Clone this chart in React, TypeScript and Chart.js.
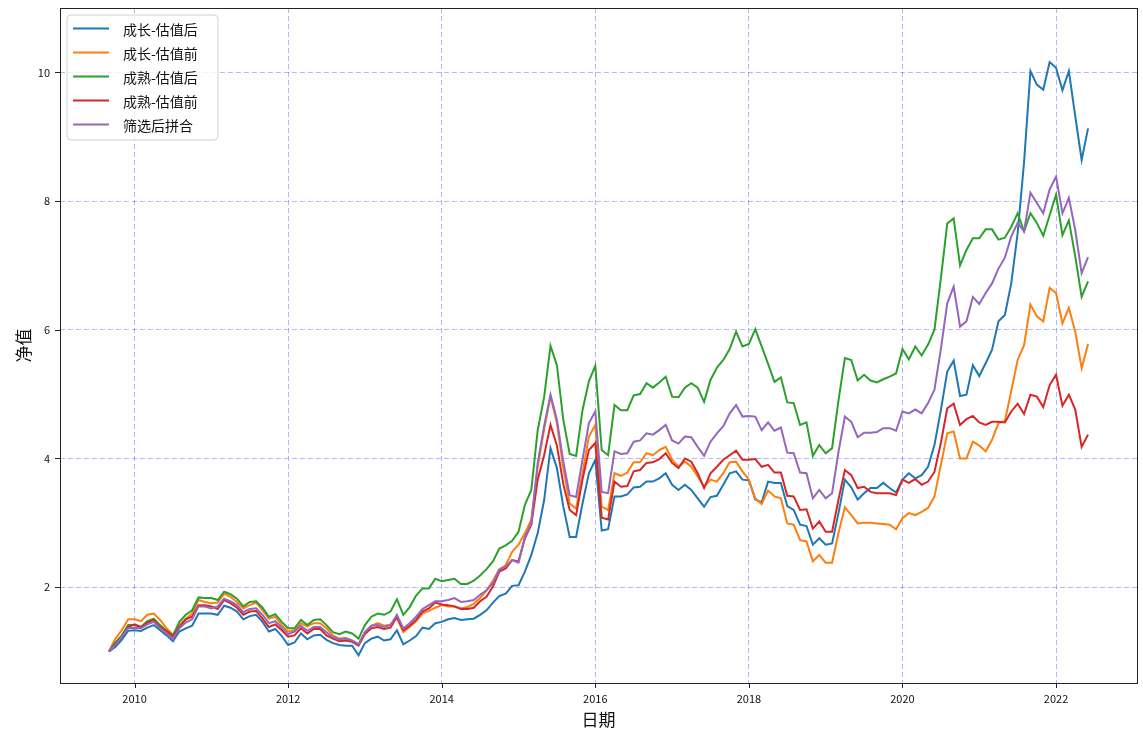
import React, { useEffect, useRef } from "react";
import { Chart, registerables } from "chart.js";

Chart.register(...registerables);

// ---- data (monthly, Aug 2009 .. May 2022) ----
const START_YEAR = 2009;
const START_MONTH = 8;

const seriesNames: string[] = ["成长-估值后", "成长-估值前", "成熟-估值后", "成熟-估值前", "筛选后拼合"];
const seriesColors: string[] = ["#1f77b4", "#ff7f0e", "#2ca02c", "#d62728", "#9467bd"];

const growthAfter: number[] = [
  1.00, 1.07, 1.18, 1.32, 1.33,
  1.32, 1.37, 1.41, 1.33, 1.25, 1.16, 1.31, 1.36, 1.40, 1.59, 1.59, 1.59,
  1.57, 1.71, 1.68, 1.62, 1.50, 1.55, 1.57, 1.46, 1.31, 1.35, 1.24, 1.10,
  1.14, 1.28, 1.19, 1.25, 1.26, 1.18, 1.13, 1.10, 1.09, 1.09, 0.94, 1.13,
  1.20, 1.23, 1.17, 1.19, 1.33, 1.11, 1.17, 1.24, 1.37, 1.35, 1.44, 1.46,
  1.50, 1.52, 1.49, 1.50, 1.51, 1.57, 1.64, 1.76, 1.86, 1.90, 2.02, 2.03,
  2.24, 2.50, 2.84, 3.35, 4.16, 3.85, 3.25, 2.78, 2.78, 3.30, 3.77, 3.98,
  2.88, 2.90, 3.41, 3.41, 3.44, 3.55, 3.56, 3.64, 3.64, 3.69, 3.77, 3.59,
  3.51, 3.59, 3.51, 3.38, 3.25, 3.40, 3.42, 3.59, 3.77, 3.80, 3.67, 3.66,
  3.36, 3.32, 3.64, 3.62, 3.62, 3.26, 3.20, 2.97, 2.95, 2.66, 2.76, 2.66,
  2.68, 3.15, 3.67, 3.55, 3.36, 3.46, 3.54, 3.54, 3.62, 3.54, 3.47, 3.67,
  3.77, 3.69, 3.74, 3.87, 4.21, 4.75, 5.35, 5.52, 4.97, 4.99, 5.45, 5.28,
  5.48, 5.69, 6.13, 6.23, 6.72, 7.50, 8.60, 10.02, 9.81, 9.73, 10.16, 10.07,
  9.72, 10.02, 9.32, 8.64, 9.13,
];

const growthBefore: number[] = [
  1.00, 1.20, 1.33, 1.50, 1.50,
  1.47, 1.57, 1.59, 1.49, 1.36, 1.26, 1.41, 1.51, 1.59, 1.80, 1.77, 1.75,
  1.76, 1.90, 1.85, 1.77, 1.67, 1.72, 1.76, 1.64, 1.51, 1.54, 1.41, 1.31,
  1.33, 1.44, 1.39, 1.44, 1.44, 1.36, 1.25, 1.20, 1.21, 1.17, 1.11, 1.30,
  1.40, 1.44, 1.40, 1.42, 1.52, 1.30, 1.38, 1.47, 1.59, 1.63, 1.68, 1.72,
  1.70, 1.70, 1.67, 1.69, 1.74, 1.83, 1.95, 2.10, 2.28, 2.34, 2.55, 2.66,
  2.84, 3.05, 3.87, 4.45, 4.96, 4.55, 3.85, 3.30, 3.22, 3.77, 4.34, 4.52,
  3.25, 3.20, 3.77, 3.73, 3.78, 3.94, 3.94, 4.08, 4.05, 4.13, 4.18, 3.98,
  3.87, 3.95, 3.87, 3.72, 3.56, 3.67, 3.64, 3.77, 3.94, 3.95, 3.80, 3.67,
  3.38, 3.29, 3.50, 3.41, 3.38, 2.99, 2.97, 2.73, 2.71, 2.40, 2.50, 2.38,
  2.38, 2.84, 3.24, 3.12, 2.99, 3.00, 3.00, 2.99, 2.98, 2.97, 2.90, 3.07,
  3.15, 3.12, 3.17, 3.23, 3.41, 3.90, 4.39, 4.42, 4.00, 4.00, 4.26, 4.20,
  4.11, 4.29, 4.55, 4.58, 5.05, 5.53, 5.76, 6.39, 6.21, 6.13, 6.65, 6.57,
  6.10, 6.34, 5.97, 5.40, 5.78,
];

const matureAfter: number[] = [
  1.00, 1.14, 1.25, 1.41, 1.41,
  1.38, 1.47, 1.51, 1.41, 1.32, 1.25, 1.46, 1.57, 1.64, 1.84, 1.83, 1.83,
  1.80, 1.93, 1.89, 1.82, 1.70, 1.77, 1.78, 1.68, 1.54, 1.58, 1.46, 1.36,
  1.36, 1.49, 1.41, 1.49, 1.50, 1.41, 1.30, 1.27, 1.31, 1.28, 1.20, 1.41,
  1.54, 1.59, 1.57, 1.62, 1.81, 1.57, 1.69, 1.87, 1.98, 1.98, 2.13, 2.09,
  2.11, 2.13, 2.05, 2.05, 2.10, 2.18, 2.28, 2.40, 2.60, 2.65, 2.72, 2.86,
  3.28, 3.51, 4.44, 4.95, 5.75, 5.45, 4.60, 4.07, 4.04, 4.75, 5.20, 5.44,
  4.13, 4.05, 4.83, 4.75, 4.75, 4.98, 5.00, 5.17, 5.10, 5.18, 5.27, 4.96,
  4.95, 5.10, 5.17, 5.10, 4.88, 5.22, 5.41, 5.53, 5.70, 5.97, 5.74, 5.78,
  6.01, 5.74, 5.47, 5.19, 5.26, 4.87, 4.86, 4.52, 4.56, 4.04, 4.21, 4.08,
  4.16, 4.90, 5.56, 5.53, 5.21, 5.30, 5.21, 5.18, 5.23, 5.27, 5.32, 5.70,
  5.54, 5.74, 5.60, 5.77, 6.00, 6.80, 7.65, 7.73, 7.00, 7.24, 7.42, 7.42,
  7.56, 7.56, 7.40, 7.43, 7.60, 7.81, 7.53, 7.81, 7.66, 7.46, 7.78, 8.10,
  7.47, 7.70, 7.14, 6.51, 6.75,
];

const matureBefore: number[] = [
  1.00, 1.11, 1.23, 1.38, 1.42,
  1.38, 1.45, 1.49, 1.38, 1.32, 1.23, 1.38, 1.50, 1.54, 1.72, 1.72, 1.70,
  1.66, 1.80, 1.75, 1.68, 1.57, 1.62, 1.63, 1.51, 1.38, 1.42, 1.33, 1.23,
  1.25, 1.36, 1.28, 1.35, 1.35, 1.25, 1.20, 1.16, 1.17, 1.15, 1.09, 1.27,
  1.36, 1.38, 1.35, 1.37, 1.54, 1.33, 1.40, 1.49, 1.62, 1.67, 1.76, 1.73,
  1.72, 1.70, 1.66, 1.66, 1.68, 1.78, 1.85, 2.01, 2.24, 2.29, 2.42, 2.40,
  2.76, 2.97, 3.67, 4.05, 4.52, 4.20, 3.60, 3.20, 3.12, 3.67, 4.13, 4.24,
  3.08, 3.05, 3.64, 3.56, 3.57, 3.80, 3.82, 3.93, 3.94, 3.99, 4.08, 3.93,
  3.85, 4.00, 3.95, 3.77, 3.54, 3.77, 3.87, 3.98, 4.05, 4.12, 3.98, 3.98,
  3.99, 3.87, 3.90, 3.78, 3.78, 3.42, 3.41, 3.20, 3.21, 2.91, 3.02, 2.86,
  2.86, 3.36, 3.82, 3.74, 3.54, 3.56, 3.48, 3.46, 3.46, 3.46, 3.43, 3.67,
  3.62, 3.68, 3.59, 3.64, 3.79, 4.24, 4.78, 4.85, 4.52, 4.61, 4.66, 4.56,
  4.52, 4.57, 4.57, 4.56, 4.73, 4.85, 4.69, 4.99, 4.96, 4.80, 5.14, 5.30,
  4.82, 4.99, 4.76, 4.18, 4.37,
];

const combined: number[] = [
  1.00, 1.10, 1.23, 1.36, 1.37,
  1.36, 1.42, 1.46, 1.36, 1.28, 1.19, 1.36, 1.45, 1.50, 1.70, 1.70, 1.67,
  1.70, 1.82, 1.78, 1.72, 1.61, 1.66, 1.67, 1.57, 1.44, 1.47, 1.37, 1.27,
  1.31, 1.40, 1.32, 1.38, 1.38, 1.30, 1.22, 1.19, 1.20, 1.17, 1.11, 1.30,
  1.40, 1.41, 1.38, 1.41, 1.57, 1.36, 1.44, 1.54, 1.66, 1.72, 1.78, 1.78,
  1.80, 1.83, 1.77, 1.78, 1.80, 1.88, 1.95, 2.06, 2.27, 2.32, 2.42, 2.38,
  2.78, 2.99, 3.93, 4.50, 4.99, 4.60, 3.95, 3.43, 3.40, 3.98, 4.55, 4.73,
  3.48, 3.46, 4.11, 4.07, 4.08, 4.26, 4.28, 4.39, 4.37, 4.44, 4.52, 4.28,
  4.23, 4.34, 4.33, 4.18, 4.04, 4.26, 4.39, 4.50, 4.70, 4.83, 4.65, 4.66,
  4.65, 4.44, 4.56, 4.43, 4.48, 4.09, 4.08, 3.78, 3.77, 3.38, 3.51, 3.38,
  3.46, 4.10, 4.65, 4.57, 4.33, 4.40, 4.40, 4.41, 4.47, 4.47, 4.43, 4.73,
  4.70, 4.76, 4.70, 4.86, 5.07, 5.70, 6.41, 6.67, 6.05, 6.13, 6.51, 6.40,
  6.57, 6.72, 6.95, 7.12, 7.45, 7.66, 7.53, 8.13, 7.97, 7.81, 8.18, 8.38,
  7.81, 8.05, 7.55, 6.88, 7.13,
];

const allSeries: number[][] = [growthAfter, growthBefore, matureAfter, matureBefore, combined];

const xTitle = "日期";
const yTitle = "净值";
const Y_MIN = 0.51;
const Y_MAX = 11.0;
const Y_STEP = 2;
const X_STEP = 2;

// month-end decimal year for month index i
function monthPos(i: number): number {
  const m = START_MONTH - 1 + i;
  const year = START_YEAR + Math.floor(m / 12);
  const month = (m % 12) + 1;
  return year + month / 12;
}

const FONT = '"Noto Sans CJK SC", "Noto Sans", sans-serif';

const framePlugin = {
  id: "mplFrame",
  afterDraw(chart: any) {
    const { ctx, chartArea } = chart;
    const { left, right, top, bottom } = chartArea;
    ctx.save();
    ctx.strokeStyle = "#222";
    ctx.lineWidth = 1;
    ctx.setLineDash([]);
    ctx.strokeRect(Math.round(left) + 0.5, Math.round(top) + 0.5, Math.round(right - left), Math.round(bottom - top));
    const xs = chart.scales.x;
    const ys = chart.scales.y;
    ctx.beginPath();
    xs.ticks.forEach((t: any) => {
      const px = Math.round(xs.getPixelForValue(t.value)) + 0.5;
      ctx.moveTo(px, bottom);
      ctx.lineTo(px, bottom + 5);
    });
    ys.ticks.forEach((t: any) => {
      const py = Math.round(ys.getPixelForValue(t.value)) + 0.5;
      ctx.moveTo(left - 5, py);
      ctx.lineTo(left, py);
    });
    ctx.stroke();

    // legend (matplotlib style, upper left)
    const x0 = left + 7;
    const y0 = top + 7;
    const w = 151;
    const h = 125;
    const r = 4;
    ctx.beginPath();
    ctx.moveTo(x0 + r, y0);
    ctx.lineTo(x0 + w - r, y0);
    ctx.quadraticCurveTo(x0 + w, y0, x0 + w, y0 + r);
    ctx.lineTo(x0 + w, y0 + h - r);
    ctx.quadraticCurveTo(x0 + w, y0 + h, x0 + w - r, y0 + h);
    ctx.lineTo(x0 + r, y0 + h);
    ctx.quadraticCurveTo(x0, y0 + h, x0, y0 + h - r);
    ctx.lineTo(x0, y0 + r);
    ctx.quadraticCurveTo(x0, y0, x0 + r, y0);
    ctx.closePath();
    ctx.fillStyle = "rgba(255,255,255,0.8)";
    ctx.fill();
    ctx.strokeStyle = "#d0d0d0";
    ctx.lineWidth = 1;
    ctx.stroke();
    chart.data.datasets.forEach((ds: any, i: number) => {
      const yy = y0 + 13.5 + i * 24;
      ctx.beginPath();
      ctx.strokeStyle = ds.borderColor;
      ctx.lineWidth = 2;
      ctx.moveTo(x0 + 6, yy);
      ctx.lineTo(x0 + 42, yy);
      ctx.stroke();
      ctx.fillStyle = "#111";
      ctx.font = `14px ${FONT}`;
      ctx.textBaseline = "middle";
      ctx.textAlign = "left";
      ctx.fillText(ds.label, x0 + 56, yy + 1);
    });
    ctx.restore();
  },
};

export default function App() {
  const canvasRef = useRef<HTMLCanvasElement | null>(null);

  useEffect(() => {
    if (!canvasRef.current) return;
    const datasets = allSeries.map((vals, i) => ({
      label: seriesNames[i],
      data: vals.map((v, j) => ({ x: monthPos(j), y: v })),
      borderColor: seriesColors[i],
      backgroundColor: seriesColors[i],
      borderWidth: 2,
      pointRadius: 0,
      tension: 0,
      fill: false,
      order: allSeries.length - 1 - i,
    }));
    const first = monthPos(0);
    const last = monthPos(growthAfter.length - 1);
    const span = last - first;
    const chart = new Chart(canvasRef.current, {
      type: "line",
      data: { datasets },
      plugins: [framePlugin],
      options: {
        animation: false,
        responsive: false,
        maintainAspectRatio: false,
        layout: { padding: { top: 8, right: 6, left: 0, bottom: 0 } },
        plugins: {
          legend: { display: false },
          tooltip: { enabled: false },
        },
        scales: {
          x: {
            type: "linear",
            min: first - 0.05 * span,
            max: last + 0.05 * span,
            grid: { color: "rgba(40,40,255,0.35)", lineWidth: 1, drawTicks: false },
            border: { display: false, dash: [5, 3] },
            ticks: {
              stepSize: X_STEP,
              includeBounds: false,
              padding: 9,
              color: "#111",
              font: { family: FONT, size: 11 },
              maxRotation: 0,
              callback: (v: any) => String(v),
            },
            title: {
              display: true,
              text: xTitle,
              color: "#111",
              font: { family: FONT, size: 17 },
              padding: { top: 0, bottom: 2 },
            },
            afterFit: (scale: any) => {
              scale.height = 49;
              scale.paddingLeft = 0;
              scale.paddingRight = 0;
            },
          },
          y: {
            type: "linear",
            min: Y_MIN,
            max: Y_MAX,
            grid: { color: "rgba(40,40,255,0.35)", lineWidth: 1, drawTicks: false },
            border: { display: false, dash: [5, 3] },
            ticks: {
              stepSize: Y_STEP,
              includeBounds: false,
              padding: 10,
              color: "#111",
              font: { family: FONT, size: 11 },
              callback: (v: any) => String(v),
            },
            title: {
              display: true,
              text: yTitle,
              color: "#111",
              font: { family: FONT, size: 17 },
              padding: { top: 13, bottom: 0 },
            },
            afterFit: (scale: any) => {
              scale.width = 60;
              scale.paddingTop = 0;
              scale.paddingBottom = 0;
            },
          },
        },
      },
    } as any);
    return () => chart.destroy();
  }, []);

  return (
    <div style={{ position: "fixed", left: 0, top: 0, width: 1143, height: 732, background: "#fff" }}>
      <canvas ref={canvasRef} width={1143} height={732} style={{ display: "block" }} />
    </div>
  );
}
